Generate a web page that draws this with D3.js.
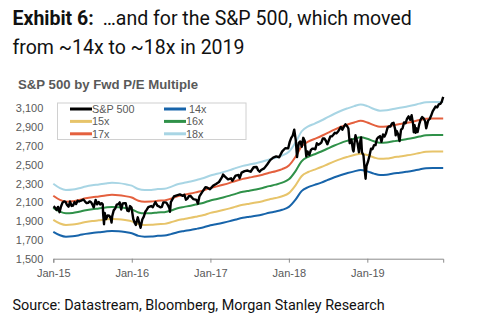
<!DOCTYPE html>
<html>
<head>
<meta charset="utf-8">
<script src="https://cdn.jsdelivr.net/npm/d3@7"></script>
<style>
  body { margin: 0; background: #fff; }
  svg { display: block; }
</style>
</head>
<body>
<div id="chart"></div>
<script>
const epsMonths = [
  "2015-01","2015-02","2015-03","2015-04","2015-05","2015-06","2015-07","2015-08","2015-09","2015-10","2015-11","2015-12",
  "2016-01","2016-02","2016-03","2016-04","2016-05","2016-06","2016-07","2016-08","2016-09","2016-10","2016-11","2016-12",
  "2017-01","2017-02","2017-03","2017-04","2017-05","2017-06","2017-07","2017-08","2017-09","2017-10","2017-11","2017-12",
  "2018-01","2018-02","2018-03","2018-04","2018-05","2018-06","2018-07","2018-08","2018-09","2018-10","2018-11","2018-12",
  "2019-01","2019-02","2019-03","2019-04","2019-05","2019-06","2019-07","2019-08","2019-09","2019-10","2019-11","2019-12"
];
const fwdEps = [
  127.6, 125.0, 123.9, 124.2, 125.0, 126.0, 126.7, 127.2, 127.8, 128.2, 128.0, 127.4,
  126.5, 124.5, 123.9, 124.0, 124.5, 124.7, 125.8, 127.3, 128.2, 129.0, 130.0, 131.0,
  132.5, 133.5, 134.5, 135.7, 137.0, 138.2, 139.0, 139.8, 140.8, 142.0, 143.0, 144.3,
  146.5, 152.0, 158.5, 161.5, 163.2, 165.0, 167.0, 169.0, 170.8, 172.2, 173.5, 174.5,
  173.5, 171.8, 170.8, 171.0, 171.8, 172.5, 173.2, 174.0, 175.0, 175.8, 176.0, 176.0
];
const multiples = [14, 15, 16, 17, 18];
const bandColors = ["#1764aa", "#e7c46a", "#2f9149", "#e4603e", "#a8d5e4"];

// S&P 500 level
const sp500 = [
  ["2015-01-02",2058],["2015-01-09",2044],["2015-01-16",2019],["2015-01-23",2051],["2015-01-30",1995],
  ["2015-02-06",2055],["2015-02-13",2097],["2015-02-20",2110],["2015-02-27",2104],["2015-03-06",2071],
  ["2015-03-13",2053],["2015-03-20",2108],["2015-03-27",2061],["2015-04-03",2066],["2015-04-10",2102],
  ["2015-04-17",2081],["2015-04-24",2117],["2015-05-01",2108],["2015-05-08",2116],["2015-05-15",2122],
  ["2015-05-21",2131],["2015-05-29",2107],["2015-06-05",2092],["2015-06-12",2094],["2015-06-19",2110],
  ["2015-06-26",2101],["2015-07-02",2076],["2015-07-08",2046],["2015-07-17",2126],["2015-07-24",2079],
  ["2015-07-31",2104],["2015-08-07",2077],["2015-08-14",2091],["2015-08-19",2079],["2015-08-21",1971],
  ["2015-08-25",1867],["2015-08-28",1988],["2015-09-04",1921],["2015-09-11",1961],["2015-09-18",1958],
  ["2015-09-25",1931],["2015-09-29",1884],["2015-10-02",1951],["2015-10-09",2014],["2015-10-16",2033],
  ["2015-10-23",2075],["2015-10-30",2079],["2015-11-06",2099],["2015-11-13",2023],["2015-11-20",2089],
  ["2015-11-27",2090],["2015-12-04",2091],["2015-12-11",2012],["2015-12-18",2005],["2015-12-24",2060],
  ["2015-12-31",2044],
  ["2016-01-08",1922],["2016-01-15",1880],["2016-01-20",1859],["2016-01-29",1940],["2016-02-05",1880],
  ["2016-02-11",1829],["2016-02-19",1917],["2016-02-26",1948],["2016-03-04",1999],["2016-03-11",2022],
  ["2016-03-18",2049],["2016-03-31",2060],["2016-04-08",2048],["2016-04-15",2081],["2016-04-20",2102],
  ["2016-04-29",2065],["2016-05-06",2057],["2016-05-13",2046],["2016-05-20",2052],["2016-05-27",2099],
  ["2016-06-03",2099],["2016-06-10",2096],["2016-06-17",2071],["2016-06-24",2037],["2016-06-27",2000],
  ["2016-07-01",2103],["2016-07-08",2130],["2016-07-15",2162],["2016-07-29",2174],["2016-08-12",2184],
  ["2016-08-26",2169],["2016-09-02",2180],["2016-09-09",2128],["2016-09-16",2139],["2016-09-23",2165],
  ["2016-09-30",2168],["2016-10-14",2133],["2016-10-28",2126],["2016-11-04",2085],["2016-11-11",2164],
  ["2016-11-25",2213],["2016-12-09",2260],["2016-12-16",2258],["2016-12-30",2239],
  ["2017-01-13",2275],["2017-01-27",2295],["2017-02-10",2316],["2017-02-24",2367],["2017-03-01",2395],
  ["2017-03-10",2373],["2017-03-24",2344],["2017-04-07",2355],["2017-04-13",2329],["2017-04-28",2384],
  ["2017-05-12",2390],["2017-05-17",2357],["2017-05-26",2416],["2017-06-09",2432],["2017-06-23",2438],
  ["2017-07-07",2425],["2017-07-21",2473],["2017-08-04",2476],["2017-08-11",2441],["2017-08-18",2425],
  ["2017-08-25",2443],["2017-09-08",2461],["2017-09-22",2502],["2017-10-06",2549],["2017-10-20",2575],
  ["2017-11-03",2588],["2017-11-17",2579],["2017-12-01",2642],["2017-12-15",2675],["2017-12-29",2674],
  ["2018-01-05",2743],["2018-01-12",2786],["2018-01-19",2810],["2018-01-26",2873],["2018-02-02",2762],
  ["2018-02-08",2581],["2018-02-16",2732],["2018-02-23",2747],["2018-03-02",2691],["2018-03-09",2786],
  ["2018-03-16",2752],["2018-03-23",2588],["2018-03-29",2641],["2018-04-06",2604],["2018-04-13",2656],
  ["2018-04-20",2670],["2018-04-27",2670],["2018-05-04",2663],["2018-05-11",2728],["2018-05-18",2713],
  ["2018-05-25",2721],["2018-06-01",2735],["2018-06-08",2779],["2018-06-15",2780],["2018-06-22",2755],
  ["2018-06-29",2718],["2018-07-06",2760],["2018-07-13",2801],["2018-07-20",2802],["2018-07-27",2819],
  ["2018-08-03",2840],["2018-08-10",2833],["2018-08-17",2850],["2018-08-24",2875],["2018-08-31",2902],
  ["2018-09-07",2872],["2018-09-14",2905],["2018-09-21",2930],["2018-09-28",2914],["2018-10-05",2885],
  ["2018-10-11",2729],["2018-10-19",2768],["2018-10-26",2658],["2018-10-29",2641],["2018-11-02",2723],
  ["2018-11-07",2814],["2018-11-16",2736],["2018-11-23",2633],["2018-11-30",2760],["2018-12-03",2790],
  ["2018-12-07",2633],["2018-12-14",2600],["2018-12-21",2417],["2018-12-24",2351],["2018-12-28",2486],
  ["2019-01-04",2532],["2019-01-11",2596],["2019-01-18",2671],["2019-01-25",2665],["2019-02-01",2707],
  ["2019-02-08",2708],["2019-02-15",2776],["2019-02-22",2793],["2019-03-01",2804],["2019-03-08",2743],
  ["2019-03-15",2822],["2019-03-22",2800],["2019-03-29",2834],["2019-04-05",2893],["2019-04-12",2907],
  ["2019-04-18",2905],["2019-04-26",2940],["2019-05-03",2946],["2019-05-10",2881],["2019-05-13",2812],
  ["2019-05-17",2860],["2019-05-24",2826],["2019-05-31",2752],["2019-06-07",2873],["2019-06-14",2887],
  ["2019-06-21",2950],["2019-06-28",2942],["2019-07-05",2990],["2019-07-12",3014],["2019-07-19",2977],
  ["2019-07-26",3026],["2019-08-02",2932],["2019-08-05",2845],["2019-08-09",2919],["2019-08-14",2840],
  ["2019-08-16",2889],["2019-08-23",2847],["2019-08-30",2926],["2019-09-06",2979],["2019-09-13",3007],
  ["2019-09-20",2992],["2019-09-27",2962],["2019-10-02",2887],["2019-10-11",2970],["2019-10-18",2986],
  ["2019-10-25",3023],["2019-11-01",3067],["2019-11-08",3093],["2019-11-15",3120],["2019-11-22",3110],
  ["2019-11-29",3141],["2019-12-06",3146],["2019-12-13",3169],["2019-12-20",3221]
];

const yTicks = [1500, 1700, 1900, 2100, 2300, 2500, 2700, 2900, 3100];
const legendItems = ["S&P 500", "14x", "15x", "16x", "17x", "18x"];
const legendColors = ["#000000"].concat(bandColors);

const width = 486, height = 322;
const margin = { left: 53.3, right: 42.8, top: 108.3, bottom: 63.3 };
const innerW = width - margin.left - margin.right;
const innerH = height - margin.top - margin.bottom;

const svg = d3.select("#chart").append("svg").attr("width", width).attr("height", height);

// titles
const title = svg.append("text")
  .attr("x", 12.5).attr("y", 25)
  .style("font-family", "Roboto, sans-serif").style("font-size", "19.5px").attr("fill", "#111");
title.append("tspan").style("font-weight", "bold").text("Exhibit 6:");
title.append("tspan").attr("dx", 9).text("…and for the S&P 500, which moved");
svg.append("text")
  .attr("x", 12.5).attr("y", 54)
  .style("font-family", "Roboto, sans-serif").style("font-size", "19.5px").attr("fill", "#111")
  .text("from ~14x to ~18x in 2019");

svg.append("text")
  .attr("x", 18).attr("y", 89)
  .style("font-family", "'Liberation Sans', Arial, sans-serif").style("font-size", "13.2px")
  .style("font-weight", "bold").attr("fill", "#595959")
  .text("S&P 500 by Fwd P/E Multiple");

svg.append("text")
  .attr("x", 12.5).attr("y", 310)
  .style("font-family", "Roboto, sans-serif").style("font-size", "14.4px").attr("fill", "#111")
  .text("Source: Datastream, Bloomberg, Morgan Stanley Research");

const ChartArea = svg.append("g").attr("transform", `translate(${margin.left},${margin.top})`);

const parseMonth = d3.timeParse("%Y-%m");
const parseDay = d3.timeParse("%Y-%m-%d");
const start = parseDay("2015-01-01");
const end = parseDay("2019-12-20");

const x = d3.scaleTime().domain([start, end]).range([0, innerW]);
const y = d3.scaleLinear().domain([1500, 3100]).range([innerH, 0]);

// axes
const AxisX = ChartArea.append("g").attr("transform", `translate(0,${innerH})`);
AxisX.call(d3.axisBottom(x).ticks(d3.timeYear.every(1)).tickFormat(d3.timeFormat("%b-%y")).tickSizeOuter(0).tickSize(4));
AxisX.select(".domain").attr("stroke", "#8c8c8c");
AxisX.selectAll(".tick line").attr("stroke", "#8c8c8c");
AxisX.selectAll("text")
  .attr("dy", "1.05em")
  .style("font-family", "'Liberation Sans', Arial, sans-serif").style("font-size", "11px").attr("fill", "#595959");

const AxisYLeft = ChartArea.append("g");
AxisYLeft.call(d3.axisLeft(y).tickValues(yTicks).tickFormat(d3.format(",")).tickSize(0).tickPadding(10));
AxisYLeft.select(".domain").remove();
AxisYLeft.selectAll("text")
  .style("font-family", "'Liberation Sans', Arial, sans-serif").style("font-size", "11px").attr("fill", "#595959");

// bands
const epsData = epsMonths.map((m, i) => ({ date: parseMonth(m), eps: fwdEps[i] }));
epsData[epsData.length - 1].date = end;

multiples.forEach((mult, i) => {
  const line = d3.line()
    .x((d) => x(d.date))
    .y((d) => y(d.eps * mult))
    .curve(d3.curveMonotoneX);
  ChartArea.append("path")
    .datum(epsData)
    .attr("d", line)
    .attr("fill", "none")
    .attr("stroke", bandColors[i])
    .attr("stroke-width", 2);
});

// S&P 500
const spLine = d3.line()
  .x((d) => x(parseDay(d[0])))
  .y((d) => y(d[1]))
  .curve(d3.curveLinear);
ChartArea.append("path")
  .datum(sp500)
  .attr("d", spLine)
  .attr("fill", "none")
  .attr("stroke", "#000")
  .attr("stroke-width", 2.4)
  .attr("stroke-linejoin", "round");

// legend
const legend = svg.append("g").attr("transform", "translate(57.5,103)");
legend.append("rect")
  .attr("width", 188.5).attr("height", 36.5)
  .attr("fill", "#fff").attr("stroke", "#d0d0d0").attr("stroke-width", 1);
const legendPos = [[12.5, 6], [106.5, 6], [12.5, 18.4], [106.5, 18.4], [12.5, 30.8], [106.5, 30.8]];
legendItems.forEach((name, i) => {
  const g = legend.append("g").attr("transform", `translate(${legendPos[i][0]},${legendPos[i][1]})`);
  g.append("line").attr("x1", 0).attr("x2", 22).attr("y1", 0).attr("y2", 0)
    .attr("stroke", legendColors[i]).attr("stroke-width", 3);
  g.append("text").attr("x", name === "14x" ? 25 : 22).attr("y", 4)
    .style("font-family", "'Liberation Sans', Arial, sans-serif").style("font-size", "10.8px").attr("fill", "#595959")
    .text(name);
});
</script>
</body>
</html>
